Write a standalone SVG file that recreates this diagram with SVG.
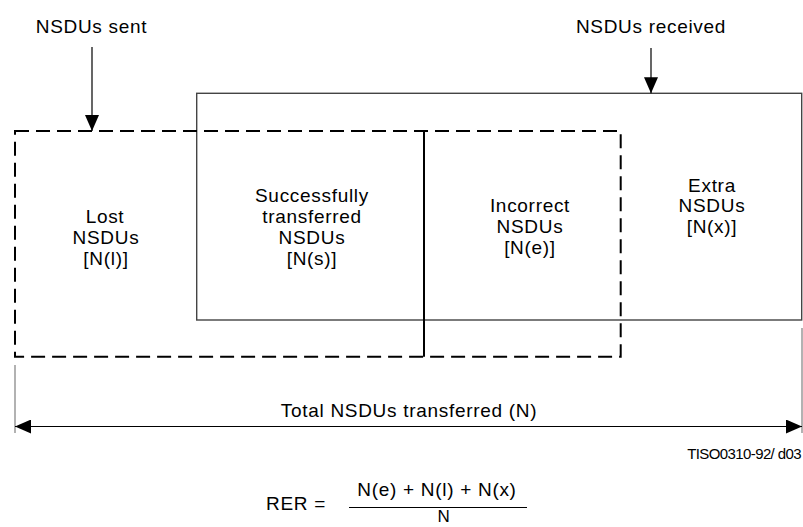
<svg xmlns="http://www.w3.org/2000/svg" width="803" height="527" viewBox="0 0 803 527">
<defs>
<style>
text{font-family:"Liberation Sans",Arial,sans-serif;font-size:19px;letter-spacing:0.7px;fill:#000;text-anchor:middle}
.dash{fill:none;stroke:#000;stroke-width:2;stroke-dasharray:14 7}
.box{fill:none;stroke:#444;stroke-width:1.4}
.solid{stroke:#000;stroke-width:2}
.arrow{stroke:#000;stroke-width:1.2;fill:none}
.ext{stroke:#999;stroke-width:1.5}
.small{font-size:15px;letter-spacing:-0.6px;text-anchor:end}
</style>
<marker id="ah" viewBox="0 0 16 14" refX="16" refY="7" markerWidth="16" markerHeight="14" orient="auto-start-reverse" markerUnits="userSpaceOnUse">
<path d="M0,0 L16,7 L0,14 z" fill="#000"/>
</marker>
</defs>
<rect width="803" height="527" fill="#fff"/>

<g id="received-set">
<rect class="box" x="196.7" y="93.3" width="605" height="226.7"/>
</g>
<g id="sent-set">
<rect class="dash" x="15" y="131" width="605.7" height="225.7"/>
<line class="solid" x1="424" y1="131" x2="424" y2="356.7"/>
</g>

<g id="lost">
<text x="105" y="223">Lost</text>
<text x="106" y="244">NSDUs</text>
<text x="106" y="265">[N(l)]</text>
</g>
<g id="success">
<text x="312" y="202">Successfully</text>
<text x="312" y="223">transferred</text>
<text x="312" y="244">NSDUs</text>
<text x="312" y="265">[N(s)]</text>
</g>
<g id="incorrect">
<text x="530" y="212">Incorrect</text>
<text x="530" y="233">NSDUs</text>
<text x="530" y="254">[N(e)]</text>
</g>
<g id="extra">
<text x="712" y="192">Extra</text>
<text x="712" y="212">NSDUs</text>
<text x="712" y="233">[N(x)]</text>
</g>

<g id="label-sent"><text x="91.5" y="33">NSDUs sent</text></g>
<g id="label-received"><text x="651" y="33">NSDUs received</text></g>

<g id="connectors">
<line class="arrow" x1="92" y1="47" x2="92" y2="131" marker-end="url(#ah)"/>
<line class="arrow" x1="651" y1="48" x2="651" y2="93.3" marker-end="url(#ah)"/>
<line class="ext" x1="15" y1="365" x2="15" y2="433"/>
<line class="ext" x1="802" y1="328" x2="802" y2="433"/>
<line class="arrow" x1="15" y1="426.5" x2="802" y2="426.5" marker-start="url(#ah)" marker-end="url(#ah)"/>
</g>

<g id="total-label"><text x="409" y="417">Total NSDUs transferred (N)</text></g>
<g id="figure-id"><text class="small" x="801" y="459">TISO0310-92/ d03</text></g>

<g id="formula">
<text x="296" y="510">RER =</text>
<text x="437" y="496">N(e) + N(l) + N(x)</text>
<line x1="349" y1="507.5" x2="527" y2="507.5" stroke="#000" stroke-width="1.2"/>
<text x="444" y="521.5" style="font-size:17px">N</text>
</g>
</svg>
